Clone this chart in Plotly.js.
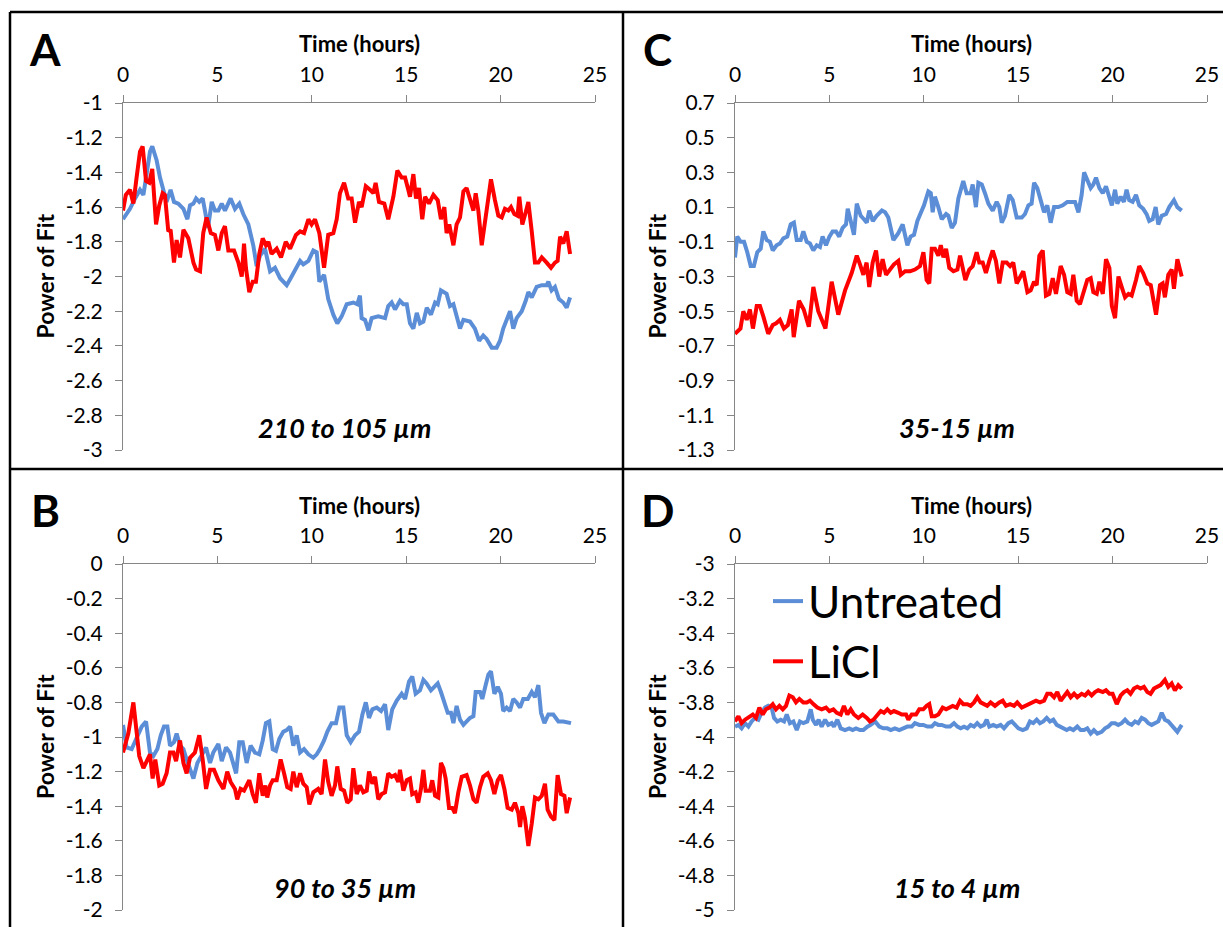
<!DOCTYPE html>
<html>
<head>
<meta charset="utf-8">
<script src="https://cdn.plot.ly/plotly-3.0.1.min.js"></script>
<style>
  html, body { margin: 0; padding: 0; background: #fff; }
  #chart { width: 1223px; height: 927px; }
</style>
</head>
<body>
<div id="chart"></div>
<script>
// ---------------- DATA ----------------
const seriesNames = ["Untreated", "LiCl"];
const panelLetters = ["A", "B", "C", "D"];
const panelLabels = ["210 to 105 \u00b5m", "90 to 35 \u00b5m", "35-15 \u00b5m", "15 to 4 \u00b5m"];
const xTitle = "Time (hours)";
const yTitle = "Power of Fit";
const xTicks = [0, 5, 10, 15, 20, 25];
const yTicksA = [-1, -1.2, -1.4, -1.6, -1.8, -2, -2.2, -2.4, -2.6, -2.8, -3];
const yTicksB = [0, -0.2, -0.4, -0.6, -0.8, -1, -1.2, -1.4, -1.6, -1.8, -2];
const yTicksC = [0.7, 0.5, 0.3, 0.1, -0.1, -0.3, -0.5, -0.7, -0.9, -1.1, -1.3];
const yTicksD = [-3, -3.2, -3.4, -3.6, -3.8, -4, -4.2, -4.4, -4.6, -4.8, -5];

// Panel A (210 to 105 um)
const tA_untreated = [0,0.37,0.64,0.9,1.08,1.25,1.43,1.55,1.78,1.96,
 2.14,2.31,2.52,2.7,2.93,3.2,3.41,3.55,3.73,3.87,
 4.04,4.22,4.34,4.5,4.7,4.87,5.05,5.23,5.4,5.7,
 5.93,6.16,6.37,6.64,6.9,7.08,7.26,7.52,7.79,8.05,
 8.32,8.49,8.67,8.88,9.11,9.38,9.55,9.82,10.08,10.26,
 10.4,10.65,10.87,11.14,11.35,11.58,11.85,12.2,12.41,12.55,
 12.64,12.82,13.0,13.17,13.52,13.88,14.05,14.23,14.41,14.67,
 14.85,15.03,15.2,15.38,15.56,15.73,15.91,16.09,16.31,16.53,
 16.67,16.84,17.14,17.32,17.5,17.67,17.85,18.03,18.38,18.64,
 18.86,19.08,19.26,19.53,19.79,19.97,20.14,20.5,20.67,20.85,
 21.12,21.33,21.47,21.65,21.91,22.18,22.44,22.53,22.7,22.88,
 23.09,23.32,23.5,23.68];
const A_untreated = [-1.67,-1.61,-1.55,-1.50,-1.53,-1.42,-1.28,-1.25,-1.33,-1.43,
 -1.50,-1.57,-1.50,-1.57,-1.58,-1.61,-1.67,-1.59,-1.58,-1.55,
 -1.57,-1.55,-1.62,-1.72,-1.57,-1.62,-1.62,-1.58,-1.62,-1.55,
 -1.61,-1.58,-1.64,-1.70,-1.82,-1.94,-1.88,-1.84,-1.97,-1.95,
 -2.01,-2.03,-2.05,-2.01,-1.96,-1.91,-1.93,-1.91,-1.85,-1.86,
 -2.03,-1.99,-2.13,-2.22,-2.27,-2.23,-2.16,-2.15,-2.16,-2.11,
 -2.24,-2.25,-2.31,-2.24,-2.23,-2.24,-2.17,-2.15,-2.19,-2.14,
 -2.16,-2.16,-2.27,-2.30,-2.21,-2.27,-2.26,-2.18,-2.22,-2.15,
 -2.16,-2.08,-2.10,-2.17,-2.16,-2.23,-2.30,-2.25,-2.26,-2.30,
 -2.37,-2.34,-2.36,-2.41,-2.41,-2.37,-2.30,-2.20,-2.30,-2.24,
 -2.20,-2.14,-2.09,-2.12,-2.06,-2.05,-2.05,-2.03,-2.08,-2.06,
 -2.13,-2.15,-2.18,-2.12];
const tA_licl = [0,0.15,0.37,0.55,0.72,0.9,1.04,1.22,1.39,1.55,
 1.75,1.92,2.1,2.22,2.4,2.52,2.7,2.84,3.02,3.2,
 3.46,3.73,3.87,4.08,4.25,4.43,4.65,4.87,5.05,5.23,
 5.4,5.58,5.88,6.11,6.29,6.41,6.51,6.69,6.87,7.04,
 7.22,7.4,7.57,7.7,7.87,8.14,8.37,8.62,8.85,9.16,
 9.38,9.59,9.82,9.99,10.17,10.4,10.65,10.87,11.14,11.32,
 11.49,11.71,11.93,12.11,12.29,12.5,12.64,12.86,13.08,13.26,
 13.38,13.56,13.84,14.05,14.32,14.53,14.76,14.94,15.11,15.2,
 15.38,15.52,15.68,15.85,16.0,16.21,16.44,16.67,16.84,17.02,
 17.14,17.28,17.5,17.67,17.85,18.03,18.2,18.38,18.56,18.68,
 18.82,19.0,19.26,19.49,19.7,19.88,20.06,20.23,20.41,20.55,
 20.73,20.9,20.99,21.15,21.33,21.47,21.65,21.82,22.0,22.18,
 22.44,22.67,22.88,23.02,23.15,23.32,23.5,23.68];
const A_licl = [-1.62,-1.53,-1.50,-1.58,-1.43,-1.28,-1.25,-1.45,-1.46,-1.38,
 -1.70,-1.59,-1.52,-1.53,-1.74,-1.73,-1.92,-1.79,-1.89,-1.73,
 -1.78,-1.92,-1.96,-1.97,-1.75,-1.66,-1.75,-1.76,-1.85,-1.75,
 -1.71,-1.85,-1.85,-1.92,-2.00,-1.81,-1.95,-2.09,-2.03,-2.03,
 -1.87,-1.78,-1.82,-1.80,-1.87,-1.84,-1.89,-1.80,-1.84,-1.76,
 -1.74,-1.75,-1.67,-1.70,-1.67,-1.75,-1.95,-1.76,-1.75,-1.67,
 -1.52,-1.46,-1.55,-1.55,-1.69,-1.57,-1.60,-1.48,-1.50,-1.52,
 -1.46,-1.57,-1.58,-1.67,-1.54,-1.39,-1.43,-1.43,-1.50,-1.54,
 -1.41,-1.55,-1.49,-1.67,-1.54,-1.58,-1.53,-1.56,-1.67,-1.60,
 -1.75,-1.70,-1.82,-1.70,-1.66,-1.51,-1.49,-1.56,-1.62,-1.52,
 -1.62,-1.82,-1.62,-1.44,-1.56,-1.65,-1.66,-1.61,-1.62,-1.60,
 -1.64,-1.65,-1.54,-1.70,-1.63,-1.57,-1.74,-1.92,-1.92,-1.89,
 -1.92,-1.95,-1.92,-1.91,-1.77,-1.81,-1.74,-1.87];

// Panel B (90 to 35 um)
const tB_untreated = [0,0.19,0.46,0.81,0.99,1.22,1.43,1.61,1.82,2.0,
 2.17,2.35,2.49,2.7,2.84,3.02,3.2,3.37,3.55,3.73,
 3.94,4.17,4.4,4.61,4.78,5.05,5.23,5.46,5.67,5.99,
 6.16,6.34,6.55,6.76,6.99,7.22,7.4,7.57,7.75,7.93,
 8.1,8.28,8.49,8.67,8.85,9.02,9.2,9.38,9.59,9.82,
 10.08,10.26,10.43,10.65,10.82,11.05,11.28,11.46,11.67,11.85,
 12.06,12.29,12.5,12.68,12.86,13.03,13.21,13.44,13.67,13.88,
 14.05,14.26,14.5,14.76,14.94,15.15,15.32,15.5,15.73,15.91,
 16.08,16.31,16.49,16.67,16.84,17.02,17.2,17.37,17.5,17.67,
 17.85,18.03,18.2,18.38,18.56,18.68,18.91,19.03,19.21,19.35,
 19.49,19.67,19.85,20.02,20.14,20.32,20.5,20.67,20.85,21.03,
 21.2,21.44,21.65,21.82,22.0,22.14,22.32,22.53,22.79,23.06,
 23.32,23.73];
const B_untreated = [-0.93,-1.06,-1.07,-0.98,-0.94,-0.91,-1.09,-1.11,-1.07,-0.99,
 -0.94,-0.94,-1.05,-1.03,-0.98,-1.05,-1.07,-1.13,-1.19,-1.24,
 -1.15,-1.10,-1.06,-1.15,-1.09,-1.04,-1.14,-1.06,-1.09,-1.21,
 -1.03,-1.03,-1.15,-1.05,-1.09,-1.10,-1.02,-0.92,-0.91,-1.07,
 -1.08,-1.01,-0.97,-0.96,-0.94,-1.05,-0.99,-1.09,-1.07,-1.10,
 -1.12,-1.10,-1.07,-1.02,-0.97,-0.92,-0.92,-0.83,-0.83,-0.99,
 -1.03,-0.99,-0.97,-0.87,-0.80,-0.89,-0.84,-0.83,-0.85,-0.81,
 -0.96,-0.84,-0.79,-0.75,-0.78,-0.68,-0.65,-0.75,-0.73,-0.67,
 -0.69,-0.73,-0.71,-0.69,-0.74,-0.81,-0.86,-0.86,-0.92,-0.82,
 -0.90,-0.93,-0.91,-0.89,-0.88,-0.74,-0.74,-0.78,-0.70,-0.64,
 -0.62,-0.75,-0.71,-0.75,-0.85,-0.83,-0.85,-0.78,-0.80,-0.83,
 -0.78,-0.78,-0.74,-0.77,-0.70,-0.86,-0.92,-0.87,-0.87,-0.91,
 -0.91,-0.92];
const tB_licl = [0,0.28,0.55,0.69,0.86,1.08,1.25,1.43,1.57,1.71,
 1.92,2.1,2.31,2.49,2.67,2.81,3.02,3.2,3.37,3.55,
 3.81,4.04,4.22,4.4,4.61,4.82,5.05,5.32,5.52,5.7,
 5.93,6.05,6.23,6.41,6.55,6.69,6.87,7.04,7.22,7.4,
 7.54,7.64,7.79,7.93,8.14,8.35,8.53,8.7,8.88,9.02,
 9.2,9.38,9.55,9.73,9.87,10.08,10.34,10.52,10.7,10.87,
 11.05,11.23,11.35,11.53,11.71,11.88,12.06,12.2,12.38,12.55,
 12.73,12.91,13.03,13.21,13.35,13.52,13.7,13.88,14.05,14.23,
 14.41,14.58,14.67,14.85,15.03,15.2,15.32,15.5,15.64,15.78,
 15.91,16.03,16.26,16.38,16.53,16.7,16.84,16.97,17.09,17.27,
 17.44,17.58,17.76,17.94,18.2,18.38,18.56,18.73,18.91,19.08,
 19.32,19.49,19.67,19.85,20.02,20.2,20.37,20.59,20.76,20.94,
 21.03,21.15,21.29,21.47,21.65,21.82,22.0,22.18,22.35,22.49,
 22.67,22.85,23.02,23.2,23.38,23.5,23.68];
const B_licl = [-1.09,-0.98,-0.80,-0.96,-1.11,-1.18,-1.14,-1.10,-1.24,-1.13,
 -1.28,-1.27,-1.21,-1.09,-1.09,-1.14,-1.02,-1.15,-1.21,-1.12,
 -1.09,-0.99,-1.13,-1.30,-1.19,-1.19,-1.25,-1.30,-1.20,-1.26,
 -1.30,-1.36,-1.30,-1.31,-1.28,-1.25,-1.33,-1.38,-1.21,-1.34,
 -1.28,-1.35,-1.28,-1.25,-1.25,-1.13,-1.21,-1.29,-1.30,-1.20,
 -1.29,-1.21,-1.27,-1.29,-1.39,-1.32,-1.30,-1.33,-1.13,-1.26,
 -1.34,-1.28,-1.17,-1.30,-1.31,-1.38,-1.36,-1.18,-1.33,-1.28,
 -1.32,-1.31,-1.20,-1.27,-1.23,-1.36,-1.33,-1.32,-1.21,-1.23,
 -1.22,-1.26,-1.19,-1.31,-1.25,-1.24,-1.33,-1.32,-1.38,-1.30,
 -1.19,-1.31,-1.31,-1.25,-1.34,-1.35,-1.15,-1.18,-1.24,-1.41,
 -1.41,-1.44,-1.32,-1.23,-1.22,-1.28,-1.36,-1.38,-1.29,-1.23,
 -1.21,-1.25,-1.33,-1.25,-1.22,-1.30,-1.41,-1.42,-1.38,-1.44,
 -1.52,-1.40,-1.47,-1.63,-1.50,-1.35,-1.36,-1.34,-1.27,-1.42,
 -1.46,-1.48,-1.22,-1.33,-1.34,-1.44,-1.35];

// Panel C (35-15 um)
const tC_untreated = [0,0.12,0.3,0.48,0.65,0.83,1.0,1.18,1.36,1.5,
 1.68,1.85,2.0,2.2,2.38,2.56,2.77,2.95,3.12,3.27,
 3.48,3.62,3.8,3.97,4.15,4.33,4.5,4.64,4.82,5.0,
 5.17,5.35,5.52,5.7,5.88,5.97,6.13,6.3,6.45,6.66,
 6.83,6.98,7.11,7.3,7.5,7.78,7.95,8.12,8.39,8.65,
 8.88,9.13,9.3,9.48,9.66,9.84,10.01,10.24,10.37,10.47,
 10.59,10.77,10.95,11.18,11.3,11.48,11.65,11.83,12.09,12.27,
 12.48,12.59,12.76,12.89,13.07,13.24,13.42,13.65,13.86,14.0,
 14.13,14.3,14.53,14.71,14.92,15.19,15.36,15.54,15.71,15.84,
 16.01,16.19,16.37,16.54,16.72,16.9,17.12,17.36,17.6,17.83,
 18.01,18.19,18.36,18.49,18.66,18.84,18.98,19.12,19.3,19.48,
 19.65,19.83,19.96,20.13,20.25,20.43,20.6,20.74,20.88,21.06,
 21.24,21.41,21.62,21.8,21.94,22.12,22.28,22.42,22.6,22.83,
 23.0,23.25,23.43,23.66];
const C_untreated = [-0.19,-0.07,-0.10,-0.10,-0.16,-0.24,-0.24,-0.16,-0.14,-0.04,
 -0.09,-0.10,-0.15,-0.12,-0.11,-0.08,-0.07,0.00,0.01,-0.09,
 -0.09,-0.04,-0.10,-0.11,-0.15,-0.12,-0.13,-0.07,-0.12,-0.07,
 -0.04,-0.04,-0.07,-0.02,0.00,0.09,0.02,-0.06,0.12,0.05,
 0.03,0.01,0.08,0.02,0.05,0.08,0.07,0.04,-0.09,-0.05,
 0.00,-0.12,-0.07,-0.06,0.02,0.07,0.11,0.19,0.18,0.07,
 0.16,0.10,0.03,0.06,0.05,-0.02,0.01,0.15,0.25,0.18,
 0.18,0.23,0.10,0.24,0.23,0.18,0.12,0.08,0.13,0.10,
 0.01,0.05,0.17,0.14,0.04,0.04,0.06,0.11,0.12,0.24,
 0.21,0.14,0.07,0.11,0.01,0.10,0.10,0.11,0.13,0.13,
 0.13,0.07,0.17,0.30,0.25,0.21,0.23,0.27,0.21,0.18,
 0.22,0.16,0.11,0.20,0.12,0.16,0.13,0.20,0.14,0.13,
 0.17,0.11,0.09,0.06,0.02,0.03,0.10,0.00,0.05,0.06,
 0.10,0.14,0.10,0.08];
const tC_licl = [0,0.29,0.44,0.62,0.79,0.95,1.15,1.32,1.5,1.76,
 2.0,2.18,2.38,2.59,2.8,3.0,3.11,3.39,3.64,3.91,
 4.15,4.41,4.79,5.12,5.47,5.83,6.18,6.45,6.62,6.8,
 6.97,7.11,7.29,7.47,7.64,7.82,8.0,8.21,8.42,8.65,
 8.78,9.01,9.27,9.53,9.8,9.98,10.15,10.29,10.42,10.59,
 10.77,10.9,11.04,11.18,11.35,11.57,11.78,11.92,12.06,12.2,
 12.41,12.59,12.8,12.94,13.12,13.29,13.47,13.65,13.82,14.0,
 14.18,14.39,14.57,14.74,14.92,15.1,15.27,15.49,15.66,15.84,
 15.98,16.12,16.3,16.47,16.65,16.83,17.0,17.25,17.43,17.6,
 17.78,17.92,18.1,18.27,18.45,18.66,18.84,18.98,19.16,19.3,
 19.48,19.65,19.83,19.96,20.13,20.31,20.48,20.66,20.84,21.01,
 21.24,21.41,21.62,21.84,22.02,22.3,22.51,22.65,22.77,22.95,
 23.13,23.25,23.43,23.66];
const C_licl = [-0.63,-0.60,-0.50,-0.55,-0.49,-0.60,-0.47,-0.47,-0.53,-0.63,
 -0.58,-0.57,-0.55,-0.60,-0.58,-0.49,-0.65,-0.44,-0.49,-0.59,
 -0.36,-0.50,-0.60,-0.33,-0.52,-0.38,-0.28,-0.18,-0.23,-0.29,
 -0.22,-0.36,-0.22,-0.15,-0.30,-0.20,-0.29,-0.26,-0.23,-0.21,
 -0.29,-0.27,-0.27,-0.26,-0.24,-0.16,-0.32,-0.34,-0.14,-0.14,
 -0.18,-0.12,-0.19,-0.14,-0.25,-0.27,-0.26,-0.18,-0.26,-0.32,
 -0.26,-0.24,-0.16,-0.22,-0.22,-0.28,-0.21,-0.15,-0.21,-0.34,
 -0.22,-0.22,-0.24,-0.22,-0.34,-0.30,-0.27,-0.39,-0.38,-0.33,
 -0.35,-0.18,-0.15,-0.41,-0.40,-0.31,-0.40,-0.24,-0.29,-0.39,
 -0.40,-0.29,-0.44,-0.46,-0.39,-0.32,-0.31,-0.39,-0.40,-0.33,
 -0.40,-0.20,-0.25,-0.47,-0.54,-0.30,-0.36,-0.42,-0.40,-0.41,
 -0.32,-0.24,-0.28,-0.34,-0.35,-0.52,-0.35,-0.34,-0.42,-0.29,
 -0.26,-0.37,-0.20,-0.30];

// Panel D (15 to 4 um)
const tD_untreated = [0,0.18,0.35,0.53,0.71,0.88,1.06,1.24,1.41,1.59,
 1.76,1.94,2.07,2.24,2.42,2.6,2.74,2.91,3.09,3.27,
 3.44,3.62,3.83,4.01,4.12,4.29,4.43,4.59,4.77,4.94,
 5.12,5.24,5.42,5.6,5.83,6.05,6.23,6.41,6.62,6.8,
 7.01,7.19,7.42,7.64,7.86,8.07,8.25,8.47,8.7,8.91,
 9.13,9.36,9.53,9.76,9.97,10.19,10.42,10.59,10.77,10.95,
 11.18,11.39,11.6,11.78,11.95,12.13,12.31,12.48,12.66,12.83,
 13.01,13.19,13.33,13.47,13.68,13.86,14.07,14.25,14.48,14.66,
 14.83,15.01,15.24,15.45,15.62,15.8,15.98,16.15,16.33,16.51,
 16.68,16.86,17.04,17.21,17.39,17.57,17.74,17.92,18.13,18.31,
 18.49,18.66,18.84,19.01,19.19,19.42,19.6,19.77,19.95,20.13,
 20.3,20.48,20.66,20.83,21.01,21.19,21.36,21.54,21.72,21.89,
 22.07,22.25,22.42,22.6,22.77,22.95,23.13,23.3,23.43,23.66];
const D_untreated = [-3.94,-3.93,-3.95,-3.92,-3.94,-3.91,-3.89,-3.90,-3.86,-3.83,
 -3.82,-3.83,-3.89,-3.91,-3.90,-3.91,-3.87,-3.92,-3.91,-3.96,
 -3.91,-3.92,-3.91,-3.84,-3.90,-3.93,-3.90,-3.94,-3.90,-3.93,
 -3.92,-3.94,-3.90,-3.95,-3.96,-3.95,-3.96,-3.95,-3.96,-3.96,
 -3.94,-3.93,-3.91,-3.94,-3.95,-3.95,-3.96,-3.95,-3.96,-3.95,
 -3.94,-3.94,-3.92,-3.93,-3.93,-3.94,-3.94,-3.92,-3.93,-3.93,
 -3.94,-3.94,-3.92,-3.94,-3.95,-3.94,-3.95,-3.93,-3.94,-3.92,
 -3.94,-3.93,-3.90,-3.94,-3.93,-3.94,-3.93,-3.95,-3.92,-3.91,
 -3.93,-3.95,-3.96,-3.95,-3.91,-3.92,-3.90,-3.92,-3.91,-3.89,
 -3.91,-3.90,-3.93,-3.94,-3.95,-3.96,-3.95,-3.96,-3.94,-3.96,
 -3.96,-3.95,-3.98,-3.96,-3.98,-3.97,-3.95,-3.94,-3.92,-3.92,
 -3.93,-3.92,-3.90,-3.92,-3.93,-3.91,-3.92,-3.89,-3.90,-3.92,
 -3.93,-3.92,-3.91,-3.86,-3.90,-3.91,-3.93,-3.95,-3.97,-3.93];
const tD_licl = [0,0.18,0.35,0.53,0.94,1.11,1.29,1.47,1.64,1.82,
 2.0,2.17,2.35,2.53,2.7,2.88,3.06,3.23,3.41,3.62,
 3.8,3.97,4.15,4.36,4.59,4.82,5.0,5.21,5.39,5.6,
 5.77,5.95,6.13,6.3,6.53,6.76,6.98,7.15,7.33,7.54,
 7.72,7.89,8.07,8.25,8.42,8.65,8.83,9.06,9.18,9.36,
 9.59,9.76,9.97,10.15,10.29,10.42,10.59,10.77,11.0,11.18,
 11.35,11.53,11.74,11.92,12.09,12.31,12.48,12.66,12.83,13.01,
 13.19,13.36,13.54,13.77,14.0,14.18,14.35,14.57,14.78,14.95,
 15.19,15.36,15.54,15.71,15.94,16.15,16.37,16.54,16.72,16.9,
 17.07,17.25,17.43,17.6,17.78,17.96,18.13,18.36,18.54,18.71,
 18.89,19.07,19.24,19.48,19.65,19.83,20.0,20.22,20.43,20.6,
 20.78,20.95,21.13,21.31,21.48,21.66,21.84,22.01,22.19,22.37,
 22.54,22.77,22.95,23.13,23.3,23.48,23.66];
const D_licl = [-3.91,-3.88,-3.92,-3.90,-3.87,-3.89,-3.83,-3.87,-3.84,-3.83,
 -3.81,-3.84,-3.82,-3.84,-3.82,-3.76,-3.77,-3.80,-3.78,-3.80,
 -3.80,-3.79,-3.81,-3.83,-3.84,-3.83,-3.85,-3.84,-3.86,-3.87,
 -3.82,-3.87,-3.84,-3.87,-3.89,-3.87,-3.89,-3.91,-3.90,-3.87,
 -3.85,-3.86,-3.84,-3.86,-3.85,-3.86,-3.87,-3.87,-3.90,-3.87,
 -3.87,-3.84,-3.84,-3.82,-3.81,-3.88,-3.88,-3.87,-3.83,-3.84,
 -3.83,-3.82,-3.83,-3.79,-3.81,-3.81,-3.82,-3.80,-3.77,-3.80,
 -3.81,-3.82,-3.80,-3.82,-3.80,-3.79,-3.82,-3.81,-3.82,-3.80,
 -3.83,-3.82,-3.81,-3.80,-3.79,-3.80,-3.79,-3.75,-3.75,-3.77,
 -3.74,-3.79,-3.76,-3.74,-3.77,-3.75,-3.77,-3.75,-3.76,-3.74,
 -3.76,-3.74,-3.73,-3.74,-3.73,-3.75,-3.75,-3.81,-3.76,-3.74,
 -3.73,-3.75,-3.72,-3.71,-3.72,-3.71,-3.74,-3.75,-3.72,-3.71,
 -3.70,-3.67,-3.71,-3.69,-3.73,-3.70,-3.72];

// ---------------- STYLE ----------------
const W = 1223, H = 927;
const FONT = "Lato, 'Open Sans', 'Liberation Sans', sans-serif";
const BLUE = "#5B8ED6", RED = "#FF0000";
const AXIS = "#868686";
const LW = 4;

// panel pixel boxes: [left, right, top, bottom]
const boxes = {
  A: [123, 595, 103, 450],
  B: [123, 595, 564, 910],
  C: [735, 1207, 103, 450],
  D: [735, 1207, 564, 910]
};
const px = v => v / W;
const py = v => 1 - v / H;

function xAxis(b, anchor) {
  return {
    domain: [px(b[0]), px(b[1])], anchor: anchor, side: "top",
    range: [0, 25], tickvals: xTicks, ticktext: xTicks.map(String),
    ticks: "outside", ticklen: 7, tickwidth: 1, tickcolor: AXIS,
    showline: true, linecolor: AXIS, linewidth: 1,
    showgrid: false, zeroline: false, fixedrange: true,
    ticklabelstandoff: 5,
    tickfont: { family: FONT, size: 21, color: "#000" }
  };
}
function yAxis(b, anchor, ticks) {
  return {
    domain: [py(b[3]), py(b[2])], anchor: anchor,
    range: [ticks[ticks.length - 1], ticks[0]],
    tickvals: ticks, ticktext: ticks.map(v => String(v)),
    ticks: "outside", ticklen: 7, tickwidth: 1, tickcolor: AXIS,
    showline: true, linecolor: AXIS, linewidth: 1,
    showgrid: false, zeroline: false, fixedrange: true,
    ticklabelstandoff: 8,
    tickfont: { family: FONT, size: 21, color: "#000" }
  };
}

const panels = [
  { key: "A", xa: "x", ya: "y", tu: tA_untreated, u: A_untreated, tl: tA_licl, l: A_licl, ticks: yTicksA, label: panelLabels[0] },
  { key: "B", xa: "x2", ya: "y2", tu: tB_untreated, u: B_untreated, tl: tB_licl, l: B_licl, ticks: yTicksB, label: panelLabels[1] },
  { key: "C", xa: "x3", ya: "y3", tu: tC_untreated, u: C_untreated, tl: tC_licl, l: C_licl, ticks: yTicksC, label: panelLabels[2] },
  { key: "D", xa: "x4", ya: "y4", tu: tD_untreated, u: D_untreated, tl: tD_licl, l: D_licl, ticks: yTicksD, label: panelLabels[3] }
];

const traces = [];
const layout = {
  width: W, height: H,
  margin: { l: 0, r: 0, t: 0, b: 0 },
  paper_bgcolor: "#fff", plot_bgcolor: "rgba(0,0,0,0)",
  font: { family: FONT, color: "#000" },
  showlegend: true,
  legend: {
    x: px(768), y: py(566), xanchor: "left", yanchor: "top",
    bgcolor: "rgba(0,0,0,0)", borderwidth: 0,
    font: { family: FONT, size: 44, color: "#000" },
    tracegroupgap: 0, itemwidth: 30, traceorder: "grouped"
  },
  annotations: [], shapes: []
};

panels.forEach((p, i) => {
  const showLeg = p.key === "D";
  traces.push({
    type: "scatter", mode: "lines", x: p.tu, y: p.u, xaxis: p.xa, yaxis: p.ya,
    name: seriesNames[0], legendgroup: "u", showlegend: showLeg,
    line: { color: BLUE, width: LW }, hoverinfo: "skip"
  });
  traces.push({
    type: "scatter", mode: "lines", x: p.tl, y: p.l, xaxis: p.xa, yaxis: p.ya,
    name: seriesNames[1], legendgroup: "l", showlegend: showLeg,
    line: { color: RED, width: LW }, hoverinfo: "skip"
  });
  const b = boxes[p.key];
  const sfx = i === 0 ? "" : String(i + 1);
  layout["xaxis" + sfx] = xAxis(b, p.ya);
  layout["yaxis" + sfx] = yAxis(b, p.xa, p.ticks);
  const cx = (b[0] + b[1]) / 2, cy = (b[2] + b[3]) / 2;
  // x axis title (above tick labels)
  layout.annotations.push({
    xref: "paper", yref: "paper", x: px(cx), y: py(b[2] - 59),
    text: "<b>" + xTitle + "</b>", showarrow: false,
    xanchor: "center", yanchor: "middle",
    font: { family: FONT, size: 22, color: "#000" }
  });
  // y axis title
  layout.annotations.push({
    xref: "paper", yref: "paper", x: px(b[0] - 78), y: py(cy),
    text: "<b>" + yTitle + "</b>", showarrow: false, textangle: -90,
    xanchor: "center", yanchor: "middle",
    font: { family: FONT, size: 23, color: "#000" }
  });
  // panel letter
  layout.annotations.push({
    xref: "paper", yref: "paper", x: px(b[0] - 78), y: py(b[2] - 54),
    text: "<b>" + panelLetters[i] + "</b>", showarrow: false,
    xanchor: "center", yanchor: "middle",
    font: { family: FONT, size: 44, color: "#000" }
  });
  // range label
  layout.annotations.push({
    xref: "paper", yref: "paper", x: px(cx - 14), y: py(b[3] - 23),
    text: "<b><i>" + p.label + "</i></b>", showarrow: false,
    xanchor: "center", yanchor: "middle",
    font: { family: FONT, size: 27, color: "#000" }
  });
});

// frame lines around the figure panels
const frame = [
  [10, 12, 1223, 12], [10, 12, 10, 927],
  [623, 12, 623, 927], [10, 469, 1223, 469]
];
frame.forEach(f => layout.shapes.push({
  type: "line", xref: "paper", yref: "paper",
  x0: px(f[0]), y0: py(f[1]), x1: px(f[2]), y1: py(f[3]),
  line: { color: "#000", width: 2.5 }
}));

Plotly.newPlot("chart", traces, layout, { staticPlot: true, displayModeBar: false });
</script>
</body>
</html>
